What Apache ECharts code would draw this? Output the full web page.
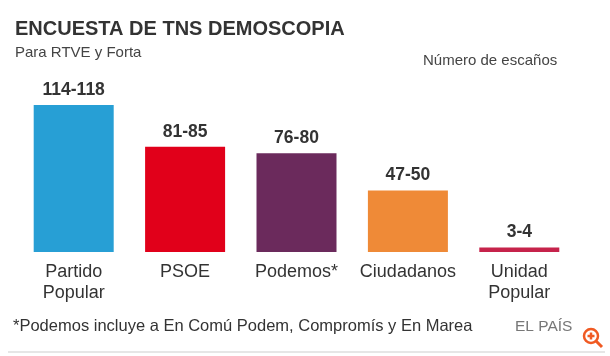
<!DOCTYPE html>
<html><head><meta charset="utf-8">
<script src="https://cdn.jsdelivr.net/npm/echarts@6/dist/echarts.min.js"></script>
<style>html,body{margin:0;padding:0;background:#fff}#c{width:610px;height:356px}</style>
</head><body><div id="c"></div>
<script>
const categories = ['Partido\nPopular', 'PSOE', 'Podemos*', 'Ciudadanos', 'Unidad\nPopular'];
const seatsMid = [116, 83, 78, 48.5, 3.5];
const seatRanges = ['114-118', '81-85', '76-80', '47-50', '3-4'];
const barColors = ['#279fd5', '#e1001a', '#6b2a5c', '#ef8a37', '#c6234b'];

const chart = echarts.init(document.getElementById('c'), null, {renderer: 'canvas'});
const FONT = 'Liberation Sans, Arial, sans-serif';
chart.setOption({
  animation: false,
  textStyle: {fontFamily: FONT},
  title: [
    {text: 'ENCUESTA DE TNS DEMOSCOPIA', left: 10, top: 14,
     textStyle: {fontSize: 20, fontWeight: 'bold', color: '#333', fontFamily: FONT}},
    {text: 'Para RTVE y Forta', left: 10, top: 40,
     textStyle: {fontSize: 15, fontWeight: 'normal', color: '#444', fontFamily: FONT}},
    {text: 'Número de escaños', left: 418, top: 48,
     textStyle: {fontSize: 15, fontWeight: 'normal', color: '#444', fontFamily: FONT}},
    {text: '*Podemos incluye a En Comú Podem, Compromís y En Marea', left: 8, top: 313,
     textStyle: {fontSize: 16.5, fontWeight: 'normal', color: '#333', fontFamily: FONT}},
    {text: 'EL PAÍS', left: 510, top: 314,
     textStyle: {fontSize: 15.5, fontWeight: 'normal', color: '#777', fontFamily: FONT}}
  ],
  grid: {left: 18, right: 35, top: 100, bottom: 104, containLabel: false},
  xAxis: {
    type: 'category', data: categories,
    axisLine: {show: false}, axisTick: {show: false},
    axisLabel: {margin: 10, fontSize: 18, color: '#333', lineHeight: 21, fontFamily: FONT, interval: 0}
  },
  yAxis: {type: 'value', min: 0, max: 120, show: false, splitLine: {show: false}},
  series: [{
    type: 'bar', barWidth: 80,
    data: seatsMid.map((v, i) => ({value: v, itemStyle: {color: barColors[i]}})),
    label: {
      show: true, position: 'top', distance: 6,
      formatter: p => seatRanges[p.dataIndex],
      fontSize: 17.5, fontWeight: 'bold', color: '#333', fontFamily: FONT
    }
  }],
  graphic: [
    {type: 'line', shape: {x1: 8, y1: 352, x2: 605, y2: 352}, style: {stroke: '#e6e6e6', lineWidth: 2}},
    {type: 'circle', shape: {cx: 591, cy: 336, r: 7}, style: {fill: 'none', stroke: '#f05a23', lineWidth: 2.5}},
    {type: 'line', shape: {x1: 596, y1: 341, x2: 602, y2: 347}, style: {stroke: '#f05a23', lineWidth: 3}},
    {type: 'line', shape: {x1: 587.5, y1: 336, x2: 594.5, y2: 336}, style: {stroke: '#f05a23', lineWidth: 2.5}},
    {type: 'line', shape: {x1: 591, y1: 332.5, x2: 591, y2: 339.5}, style: {stroke: '#f05a23', lineWidth: 2.5}}
  ]
});
</script></body></html>
